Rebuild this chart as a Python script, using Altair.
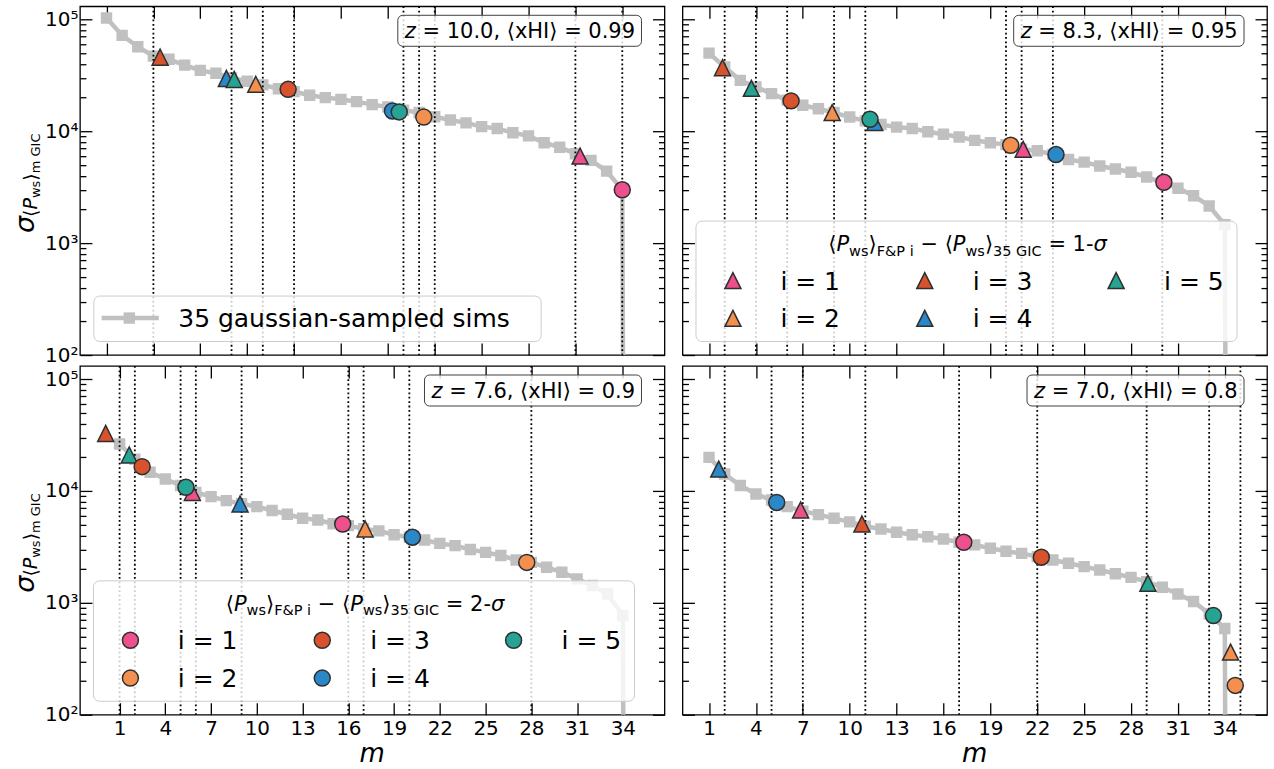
import altair as alt
import pandas as pd

FONT = "DejaVu Sans"

# ---------------- data ----------------
M_INDEX = list(range(1, 36))          # the 35 gaussian-sampled sims, ordered
X_TICKS = [1, 4, 7, 10, 13, 16, 19, 22, 25, 28, 31, 34]
Y_MAJOR = [100, 1000, 10000, 100000]
Y_MINOR = [200, 300, 400, 500, 600, 700, 800, 900,
           2000, 3000, 4000, 5000, 6000, 7000, 8000, 9000,
           20000, 30000, 40000, 50000, 60000, 70000, 80000, 90000]

Z_TEXT = ["10.0", "8.3", "7.6", "7.0"]
XHI_TEXT = ["0.99", "0.95", "0.9", "0.8"]
I_LABELS = ["1", "2", "3", "4", "5"]
FP_COLORS = ["#ee4f8d", "#f4904f", "#d8532d", "#2a87c8", "#26a392"]

# sigma of <P_ws> for m GIC sims (last one is 0 -> drops off the log axis)
GIC_Z100 = [103000, 72000, 57000, 47000, 44000, 39000, 35000, 33000, 30000, 28000,
            26000, 24000, 22600, 21000, 20000, 19300, 18400, 17300, 16500, 15400,
            14700, 13500, 12600, 11900, 11000, 10600, 9700, 9100, 7900, 7200,
            6300, 5500, 4400, 3000, 0]
GIC_Z083 = [50000, 37500, 28500, 24900, 21700, 19000, 17100, 15900, 14700, 13400,
            12400, 11500, 10900, 10600, 9900, 9400, 8900, 8300, 7900, 7600,
            6900, 6700, 6200, 5600, 5300, 4900, 4600, 4300, 3900, 3500,
            3100, 2650, 2150, 1460, 0]
GIC_Z076 = [26300, 19200, 14700, 12800, 11200, 9700, 8900, 8200, 7700, 7250,
            6700, 6200, 5700, 5500, 5100, 4900, 4600, 4400, 4070, 3860,
            3650, 3400, 3250, 3000, 2830, 2650, 2420, 2300, 2080, 1880,
            1640, 1430, 1200, 770, 0]
GIC_Z070 = [20000, 14200, 11200, 9400, 8300, 7250, 6600, 6150, 5700, 5300,
            4840, 4580, 4280, 4070, 3900, 3720, 3480, 3300, 3080, 2890,
            2770, 2590, 2420, 2260, 2110, 1970, 1820, 1690, 1550, 1380,
            1200, 1030, 800, 590, 0]

# F&P i = 1..5 : 1-sigma (triangles) and 2-sigma (circles) positions / values
TRI_M_Z100 = [31.3, 10.55, 4.43, 8.67, 9.17]
TRI_S_Z100 = [6000, 26300, 46000, 29700, 29100]
CIR_M_Z100 = [34.0, 21.3, 12.62, 19.3, 19.73]
CIR_S_Z100 = [3000, 13400, 23700, 15200, 14900]
VLINE_Z100 = [4, 9, 11, 13, 20, 21, 22, 31, 34]

TRI_M_Z083 = [21.1, 8.88, 1.86, 11.6, 3.71]
TRI_S_Z083 = [6900, 14700, 37000, 12000, 24200]
CIR_M_Z083 = [30.1, 20.3, 6.25, 23.2, 11.3]
CIR_S_Z083 = [3500, 7500, 18700, 6200, 12800]
VLINE_Z083 = [2, 4, 6, 9, 11, 20, 21, 23, 30]

TRI_M_Z076 = [5.77, 17.1, 0.09, 8.9, 1.63]
TRI_S_Z076 = [9700, 4580, 32700, 7650, 21000]
CIR_M_Z076 = [15.63, 27.7, 2.48, 20.2, 5.35]
CIR_S_Z076 = [5070, 2300, 16500, 3860, 10800]
VLINE_Z076 = [1, 2, 5, 6, 9, 16, 17, 20, 28]

TRI_M_Z070 = [6.86, 34.37, 10.78, 1.62, 29.08]
TRI_S_Z070 = [6770, 363, 5070, 15700, 1500]
CIR_M_Z070 = [17.3, 34.67, 22.26, 5.33, 33.27]
CIR_S_Z070 = [3480, 183, 2560, 7900, 770]
VLINE_Z070 = [2, 5, 7, 11, 17, 22, 29, 33, 35]

# ---------------- styling / layout ----------------
W, H = 585, 349
GRAY = "#c0c0c0"
EDGE = "#2f2f2f"
TRI = "M0,-1L-1,1L1,1Z"
ONE = pd.DataFrame({"k": [0]})

ADV = {" ": 0.318, ".": 0.318, ",": 0.318, "=": 0.838, "-": 0.361, "−": 0.838,
       "&": 0.780, "⟨": 0.390, "⟩": 0.390, "C": 0.698, "F": 0.575, "G": 0.775,
       "H": 0.752, "I": 0.295, "P": 0.603, "i": 0.278, "m": 0.974, "s": 0.521,
       "w": 0.818, "x": 0.592, "z": 0.525, "σ": 0.602}
for d in "0123456789":
    ADV[d] = 0.636


def tw(s, size):
    return sum(ADV.get(c, 0.6) for c in s) * size


def txt(s, x, y, size, italic=False, align="left", angle=0):
    mk = dict(text=s, font=FONT, fontSize=size,
              fontStyle="italic" if italic else "normal",
              align=align, baseline="alphabetic", color="black")
    if angle:
        mk["angle"] = angle
    return alt.Chart(ONE).mark_text(**mk).encode(x=alt.value(x), y=alt.value(y))


def rich(pieces, x0, y0, angle=0):
    out, pos = [], 0.0
    for s, size, italic, dy in pieces:
        lead = (len(s) - len(s.lstrip(" "))) * ADV[" "] * size
        core = s.strip(" ")
        p = pos + lead
        if angle == 0:
            out.append(txt(core, x0 + p, y0 + dy, size, italic))
        else:
            out.append(txt(core, x0 + dy, y0 - p, size, italic, angle=angle))
        pos += tw(s, size)
    return out


def rich_width(pieces):
    return sum(tw(s, size) for s, size, _, _ in pieces)


def box(x1, x2, y1, y2, stroke, fill_op, radius):
    return alt.Chart(ONE).mark_rect(
        fill="white", fillOpacity=fill_op, stroke=stroke, strokeWidth=1,
        cornerRadius=radius).encode(
        x=alt.value(x1), x2=alt.value(x2), y=alt.value(y1), y2=alt.value(y2))


def sym(shape, color, x, y):
    return alt.Chart(ONE).mark_point(
        shape=shape, filled=True, fill=color, stroke=EDGE, strokeWidth=1.5,
        size=256, opacity=1).encode(x=alt.value(x), y=alt.value(y))


def ax_in(orient, values, size, offset):
    return alt.Axis(orient=orient, offset=offset, values=values, ticks=True,
                    tickSize=size, tickWidth=1.3, tickColor="black",
                    labels=False, domain=False, grid=False, title=None)


SUP_EXPR = ("datum.value == 100 ? '10²' : datum.value == 1000 ? '10³' : "
            "datum.value == 10000 ? '10⁴' : '10⁵'")


def legend_gic():
    return [
        box(13.9, 461.6, 290, 335.5, "#cccccc", 0.8, 6),
        alt.Chart(ONE).mark_rule(color=GRAY, strokeWidth=4.5).encode(
            x=alt.value(21.7), x2=alt.value(78.9), y=alt.value(312)),
        alt.Chart(ONE).mark_point(shape="square", filled=True, color=GRAY,
                                  size=130, opacity=1).encode(
            x=alt.value(49.4), y=alt.value(312)),
        txt("35 gaussian-sampled sims", 98.4, 321, 25),
    ]


def legend_fp(shape, nsig):
    F, S, D = 21, 14.5, 4.5
    pieces = [("⟨", F, False, 0), ("P", F, True, 0), ("ws", S, False, D),
              ("⟩", F, False, 0), ("F&P i", S, False, D), (" − ", F, False, 0),
              ("⟨", F, False, 0), ("P", F, True, 0), ("ws", S, False, D),
              ("⟩", F, False, 0), ("35 GIC", S, False, D),
              (f" = {nsig}-", F, False, 0), ("σ", F, True, 0)]
    out = [box(13.5, 555, 215, 335.5, "#cccccc", 0.8, 6)]
    out += rich(pieces, 285 - rich_width(pieces) / 2, 245)
    sx, lx, ry = [50.5, 242.5, 434], [98, 290.5, 482], [274.5, 312.3]
    for j, lab in enumerate(I_LABELS):
        c, r = j // 2, j % 2
        out.append(sym(shape, FP_COLORS[j], sx[c], ry[r]))
        out.append(txt(f"i = {lab}", lx[c], ry[r] + 9, 25))
    return out


def annotation(k):
    pieces = [("z", 21, True, 0), (f" = {Z_TEXT[k]}, ⟨xHI⟩ = {XHI_TEXT[k]}", 21, False, 0)]
    left = (W - 29.3) - rich_width(pieces)
    return [box(left - 7, W - 23, 9, 40, "#404040", 0.8, 5)] + rich(pieces, left, 32)


def ytitle():
    pieces = [("σ", 27, True, 0), ("⟨", 19, False, 3), ("P", 19, True, 3),
              ("ws", 13, False, 6), ("⟩", 19, False, 3), ("m GIC", 13, False, 6)]
    return rich(pieces, -46, 227, angle=270)


def panel(k, gic, tri_m, tri_s, cir_m, cir_s, vlines, xdom, show_y, show_x, legend):
    xs = alt.Scale(domain=xdom, nice=False, zero=False)
    ys = alt.Scale(type="log", domain=[100, 131000], nice=False)
    line_df = pd.DataFrame({"m": M_INDEX, "s": [v if v > 0 else 1e-30 for v in gic]})
    tick_df = pd.DataFrame({"m": X_TICKS[:4], "s": Y_MAJOR})
    color = alt.Color("i:N", scale=alt.Scale(domain=I_LABELS, range=FP_COLORS), legend=None)

    def X(ax=None):
        return alt.X("m:Q", scale=xs, axis=ax)

    def Y(ax=None):
        return alt.Y("s:Q", scale=ys, axis=ax)

    def axl(xa, ya):
        return alt.Chart(tick_df).mark_point(opacity=0).encode(x=X(xa), y=Y(ya))

    xlab = alt.Axis(orient="bottom", values=X_TICKS, ticks=False, tickSize=0,
                    domain=False, grid=False, labelFont=FONT, labelFontSize=20,
                    labelColor="black", labelPadding=4, labelOverlap=False,
                    labelFlush=False, title=None) if show_x else None
    ylab = alt.Axis(orient="left", values=Y_MAJOR, ticks=False, tickSize=0,
                    domain=False, grid=False, labelFont=FONT, labelFontSize=20,
                    labelColor="black", labelPadding=2, labelOverlap=False,
                    labelFlush=False, labelExpr=SUP_EXPR, title=None) if show_y else None

    layers = [
        axl(xlab, ylab),
        axl(ax_in("top", X_TICKS, 12, -H), ax_in("right", Y_MAJOR, 12, -W)),
        axl(ax_in("bottom", X_TICKS, 12, -H), ax_in("right", Y_MINOR, 6, -W)),
        axl(None, ax_in("left", Y_MAJOR, 12, -W)),
        axl(None, ax_in("left", Y_MINOR, 6, -W)),
        alt.Chart(line_df).mark_line(color=GRAY, strokeWidth=4.5, clip=True).encode(x=X(), y=Y()),
        alt.Chart(line_df).mark_point(shape="square", filled=True, color=GRAY, size=130,
                                      opacity=1, clip=True).encode(x=X(), y=Y()),
        alt.Chart(pd.DataFrame({"m": vlines})).mark_rule(
            color="black", strokeWidth=1.8, strokeDash=[1.8, 2.6]).encode(x=X()),
        alt.Chart(pd.DataFrame({"m": tri_m, "s": tri_s, "i": I_LABELS})).mark_point(
            shape=TRI, filled=True, size=256, stroke=EDGE, strokeWidth=1.5, opacity=1,
            clip=True).encode(x=X(), y=Y(), color=color),
        alt.Chart(pd.DataFrame({"m": cir_m, "s": cir_s, "i": I_LABELS})).mark_point(
            shape="circle", filled=True, size=256, stroke=EDGE, strokeWidth=1.5, opacity=1,
            clip=True).encode(x=X(), y=Y(), color=color),
    ]
    if legend == "gic":
        layers += legend_gic()
    elif legend == "tri":
        layers += legend_fp(TRI, 1)
    elif legend == "circ":
        layers += legend_fp("circle", 2)
    layers += annotation(k)
    if show_y:
        layers += ytitle()
    if show_x:
        layers.append(txt("m", W / 2, H + 47, 26, italic=True, align="center"))
    if k == 0:
        layers.append(alt.Chart(ONE).mark_rect(opacity=0).encode(
            x=alt.value(-79.3), x2=alt.value(-79), y=alt.value(-5), y2=alt.value(-4.7)))
    return alt.layer(*layers).properties(width=W, height=H).resolve_axis(
        x="independent", y="independent")


p0 = panel(0, GIC_Z100, TRI_M_Z100, TRI_S_Z100, CIR_M_Z100, CIR_S_Z100, VLINE_Z100,
           [-0.7, 36.7], True, False, "gic")
p1 = panel(1, GIC_Z083, TRI_M_Z083, TRI_S_Z083, CIR_M_Z083, CIR_S_Z083, VLINE_Z083,
           [-0.7, 36.7], False, False, "tri")
p2 = panel(2, GIC_Z076, TRI_M_Z076, TRI_S_Z076, CIR_M_Z076, CIR_S_Z076, VLINE_Z076,
           [-1.6, 36.73], True, True, "circ")
p3 = panel(3, GIC_Z070, TRI_M_Z070, TRI_S_Z070, CIR_M_Z070, CIR_S_Z070, VLINE_Z070,
           [-0.7, 36.7], False, True, None)

chart = alt.concat(p0, p1, p2, p3, columns=2, bounds="flush",
                   spacing=alt.RowColnumber(row=11, column=18)).properties(
    padding={"left": 0, "top": 0, "right": 5, "bottom": 5}, background="white"
).configure_view(stroke="black", strokeWidth=1.3).configure_axis(labelFont=FONT)

chart.save("out.html", embed_options={"renderer": "svg", "actions": False})
